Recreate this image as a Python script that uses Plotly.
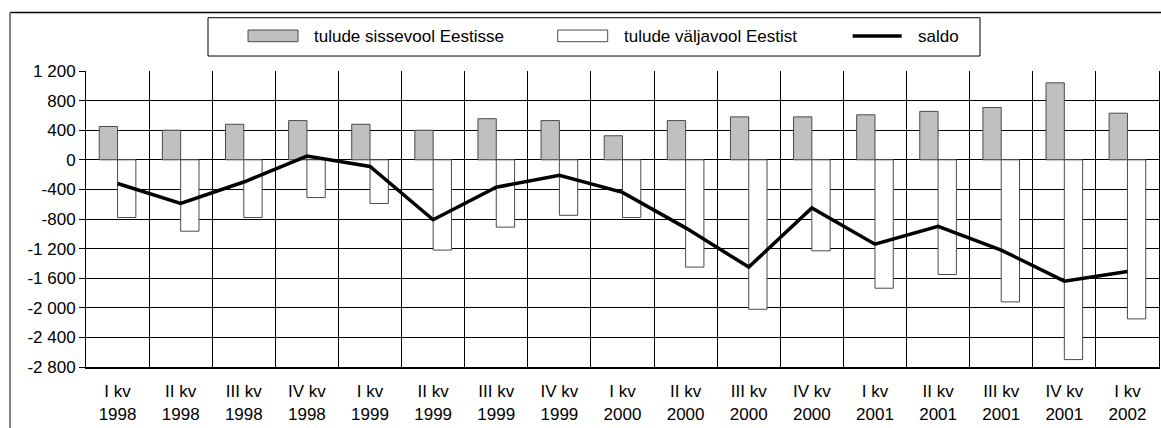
import plotly.graph_objects as go

quarters = ["I kv", "II kv", "III kv", "IV kv", "I kv", "II kv", "III kv", "IV kv",
            "I kv", "II kv", "III kv", "IV kv", "I kv", "II kv", "III kv", "IV kv", "I kv"]
years = ["1998", "1998", "1998", "1998", "1999", "1999", "1999", "1999",
         "2000", "2000", "2000", "2000", "2001", "2001", "2001", "2001", "2002"]
inflow = [450, 400, 480, 530, 480, 400, 555, 530, 325, 530, 580, 580, 608, 655, 707, 1040, 630]
outflow = [-780, -965, -780, -510, -590, -1220, -910, -750, -780, -1450, -2020, -1230,
           -1735, -1550, -1920, -2700, -2150]
saldo = [-320, -590, -300, 50, -90, -810, -370, -210, -440, -920, -1450, -650,
         -1140, -900, -1220, -1640, -1510]
ytickvals = [1200, 800, 400, 0, -400, -800, -1200, -1600, -2000, -2400, -2800]
yticktext = ["1 200", "800", "400", "0", "-400", "-800", "-1 200", "-1 600", "-2 000", "-2 400", "-2 800"]
legend_names = ["tulude sissevool Eestisse", "tulude väljavool Eestist", "saldo"]

cats = [f"{q}<br>{y}" for q, y in zip(quarters, years)]
FONT = "Liberation Sans, Arial, sans-serif"

fig = go.Figure()
fig.add_trace(go.Bar(x=cats, y=inflow, name=legend_names[0],
                     marker=dict(color="#c0c0c0", line=dict(color="#4a4a4a", width=1))))
fig.add_trace(go.Bar(x=cats, y=outflow, name=legend_names[1],
                     marker=dict(color="#ffffff", line=dict(color="#4a4a4a", width=1))))
fig.add_trace(go.Scatter(x=cats, y=saldo, name=legend_names[2], mode="lines",
                         line=dict(color="#000000", width=3.5)))

# manual legend (paper coordinates)
shapes = []
annotations = []
shapes.append(dict(type="rect", xref="paper", yref="paper", x0=0.1137, x1=0.8332, y0=1.0506, y1=1.18,
                   line=dict(color="#000000", width=1), fillcolor="rgba(0,0,0,0)"))
shapes.append(dict(type="rect", xref="paper", yref="paper", x0=0.151, x1=0.1976, y0=1.099, y1=1.1384,
                   line=dict(color="#4a4a4a", width=1), fillcolor="#c0c0c0"))
shapes.append(dict(type="rect", xref="paper", yref="paper", x0=0.4396, x1=0.4862, y0=1.099, y1=1.1384,
                   line=dict(color="#4a4a4a", width=1), fillcolor="#ffffff"))
shapes.append(dict(type="line", xref="paper", yref="paper", x0=0.7145, x1=0.7602, y0=1.1181, y1=1.1181,
                   line=dict(color="#000000", width=3.5)))
for xp, txt in zip([0.2106, 0.4995, 0.7735], legend_names):
    annotations.append(dict(xref="paper", yref="paper", x=xp, y=1.1181, text=txt, showarrow=False,
                            xanchor="left", yanchor="middle", font=dict(family=FONT, size=17, color="#000")))
# outer frame
shapes.append(dict(type="line", xref="paper", yref="paper", x0=-0.0708, x1=1.05, y0=1.198, y1=1.198,
                   line=dict(color="#000000", width=1.5)))
shapes.append(dict(type="line", xref="paper", yref="paper", x0=-0.0708, x1=-0.0708, y0=1.198, y1=-0.4,
                   line=dict(color="#808080", width=2)))

fig.update_layout(
    width=1161, height=428,
    margin=dict(l=86, r=2, t=71, b=61),
    paper_bgcolor="#ffffff", plot_bgcolor="#ffffff",
    barmode="group", bargap=0.42, bargroupgap=0,
    showlegend=False,
    font=dict(family=FONT, size=17, color="#000000"),
    shapes=shapes, annotations=annotations,
)
fig.update_xaxes(type="category", tickson="boundaries", showgrid=True, gridcolor="#000000", gridwidth=1,
                 ticks="", showline=True, linecolor="#000000", linewidth=2, ticklabelstandoff=8,
                 tickfont=dict(family=FONT, size=17, color="#000"))
fig.update_yaxes(range=[-2800, 1200], tickvals=ytickvals, ticktext=yticktext,
                 showgrid=True, gridcolor="#000000", gridwidth=1,
                 zeroline=True, zerolinecolor="#000000", zerolinewidth=1,
                 showline=True, linecolor="#000000", linewidth=1, mirror=True,
                 ticks="outside", ticklen=6, tickcolor="#000000",
                 tickfont=dict(family=FONT, size=17, color="#000"))

fig.write_html("out.html", config={"displayModeBar": False},
               post_script="document.body.style.margin='0';document.body.style.overflow='hidden';")
